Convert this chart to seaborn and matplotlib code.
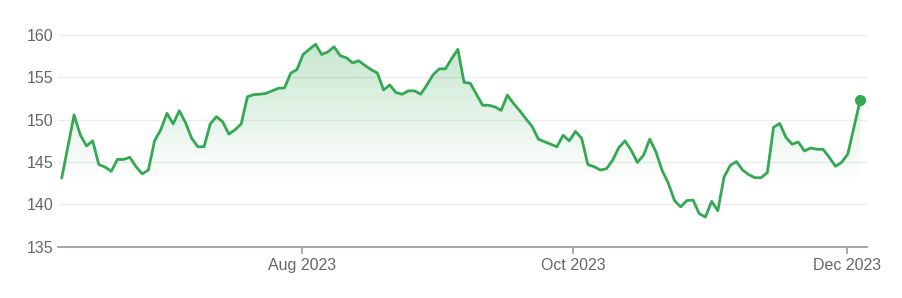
import numpy as np
import pandas as pd
import matplotlib
matplotlib.use('Agg')
import matplotlib.pyplot as plt
import matplotlib.colors as mcolors
from matplotlib.patches import Polygon
import seaborn as sns

# ---- data (one value per trading day) ----
prices = [
    143.1, 146.8, 150.55, 148.2, 146.9, 147.5, 144.7, 144.4, 143.9, 145.3,
    145.3, 145.55, 144.45, 143.6, 144.05, 147.5, 148.8, 150.75, 149.5, 151.05,
    149.65, 147.8, 146.8, 146.8, 149.5, 150.35, 149.75, 148.3, 148.8, 149.5,
    152.7, 152.95, 153.0, 153.1, 153.4, 153.7, 153.75, 155.5, 155.9, 157.7,
    158.3, 158.9, 157.7, 158.0, 158.6, 157.55, 157.3, 156.7, 156.95, 156.4,
    155.9, 155.5, 153.5, 154.1, 153.2, 153.0, 153.4, 153.4, 153.0, 154.1,
    155.3, 156.0, 156.0, 157.2, 158.3, 154.4, 154.3, 153.0, 151.7, 151.7,
    151.5, 151.1, 152.9, 151.9, 151.05, 150.1, 149.2, 147.7, 147.4, 147.1,
    146.8, 148.15, 147.5, 148.6, 147.8, 144.7, 144.45, 144.05, 144.2, 145.2,
    146.7, 147.5, 146.4, 144.95, 145.8, 147.7, 146.2, 144.0, 142.5, 140.45,
    139.7, 140.45, 140.5, 138.9, 138.5, 140.35, 139.25, 143.2, 144.6, 145.05,
    144.05, 143.5, 143.15, 143.15, 143.75, 149.1, 149.55, 147.9, 147.1, 147.35,
    146.3, 146.65, 146.5, 146.5, 145.55, 144.5, 144.95, 145.95, 149.1, 152.3,
]
tick_labels = ['Aug 2023', 'Oct 2023', 'Dec 2023']
tick_positions = [38.8, 82.6, 126.9]   # first trading day of each month (index units)
y_ticks = [135, 140, 145, 150, 155, 160]

GREEN = '#34a853'
GRID = '#ececec'
AXIS = '#9aa0a6'
TEXT = '#666666'

sns.set_theme(style='white')
plt.rcParams['font.family'] = ['Liberation Sans', 'DejaVu Sans']

df = pd.DataFrame({'day': np.arange(len(prices)), 'price': prices})

W, H = 903, 298
fig = plt.figure(figsize=(W / 100, H / 100), dpi=100)
ax_left, ax_right = 58, 867
ax_bottom, ax_top = 246.7, 18
ax = fig.add_axes([ax_left / W, (H - ax_bottom) / H,
                   (ax_right - ax_left) / W, (ax_bottom - ax_top) / H])

sns.lineplot(data=df, x='day', y='price', color=GREEN, linewidth=2.0,
             ax=ax, zorder=3)
last = df.iloc[-1]
ax.plot([last['day']], [last['price']], 'o', color=GREEN, markersize=7,
        zorder=4)

# gradient fill under the line
base, top = 142.6, 160.0
grad = np.zeros((256, 1, 4))
grad[..., :3] = mcolors.to_rgb(GREEN)
grad[..., 3] = np.linspace(0.30, 0.0, 256)[:, None]
x0, x1 = df['day'].min(), df['day'].max()
im = ax.imshow(grad, extent=[x0, x1, base, top], aspect='auto',
               origin='upper', zorder=1, interpolation='bilinear')
yv = np.maximum(df['price'].to_numpy(), base)
verts = np.column_stack([
    np.concatenate([df['day'].to_numpy(), [x1, x0]]),
    np.concatenate([yv, [base, base]])])
poly = Polygon(verts, closed=True, facecolor='none', edgecolor='none')
ax.add_patch(poly)
im.set_clip_path(poly)

ax.set_xlim(-0.6, 130.1)
ax.set_ylim(135, 162)

ax.set_yticks(y_ticks)
ax.set_yticklabels([str(t) for t in y_ticks])
ax.set_xticks(tick_positions)
ax.set_xticklabels(tick_labels)
ax.yaxis.grid(True, color=GRID, linewidth=1.0, zorder=0)
ax.xaxis.grid(False)
ax.set_axisbelow(True)
for s in ['left', 'right', 'top']:
    ax.spines[s].set_visible(False)
ax.spines['bottom'].set_color(AXIS)
ax.spines['bottom'].set_linewidth(1.3)
ax.tick_params(axis='y', length=0, pad=3, labelsize=11.5, labelcolor=TEXT)
ax.tick_params(axis='x', length=5, width=1.2, color=AXIS, pad=3,
               labelsize=11.5, labelcolor=TEXT, bottom=True)
ax.set_xlabel('')
ax.set_ylabel('')

fig.savefig('out.png', dpi=100, facecolor='white')
